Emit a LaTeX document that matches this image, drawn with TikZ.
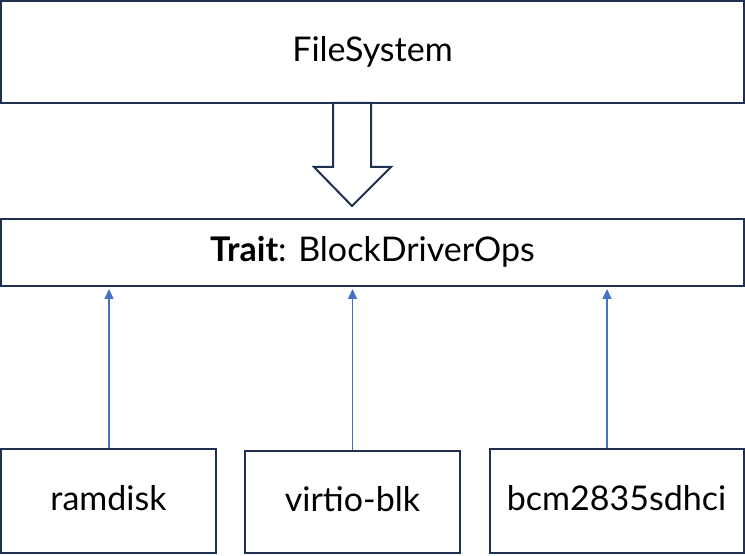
\documentclass[tikz,border=0pt]{standalone}
\usepackage{fontspec}
\setmainfont{Lato}
\usetikzlibrary{arrows.meta}
\definecolor{navy}{HTML}{1F3050}
\definecolor{lineblue}{HTML}{4472C4}
\tikzset{
  box/.style={draw=navy, line width=2pt, fill=white, inner sep=0pt, text height=24pt, text depth=5pt, font=\fontsize{34}{40}\selectfont},
  uparrow/.style={draw=lineblue, line width=1.6pt, -{Triangle[width=9pt,length=10pt]}, shorten >=2pt},
  hollow/.style={draw=navy, line width=2pt, fill=white, line join=miter}
}
\begin{document}
\begin{tikzpicture}[x=1pt,y=-1pt]
\useasboundingbox (0,0) rectangle (745,556);
\node[box, minimum width=743pt, minimum height=102pt] (fs) at (372.5,52) {FileSystem};
\node[box, minimum width=743pt, minimum height=67pt] (trait) at (372.5,252.5) {\textbf{Trait}: BlockDriverOps};
\node[box, minimum width=215pt, minimum height=104pt] (ram) at (108.5,501) {ramdisk};
\node[box, minimum width=215pt, minimum height=102pt] (virt) at (352.5,502) {virtio-blk};
\node[box, minimum width=254pt, minimum height=104pt] (bcm) at (616.5,501) {bcm2835sdhci};
\draw[hollow] (333,103) -- (333,167) -- (314,167) -- (352,206) -- (391,167) -- (371,167) -- (371,103) -- cycle;
\draw[uparrow] (ram.north -| 109,0) -- (trait.south -| 109,0);
\draw[uparrow] (virt.north) -- (trait.south -| virt.north);
\draw[uparrow] (bcm.north -| 607,0) -- (trait.south -| 607,0);
\end{tikzpicture}
\end{document}
